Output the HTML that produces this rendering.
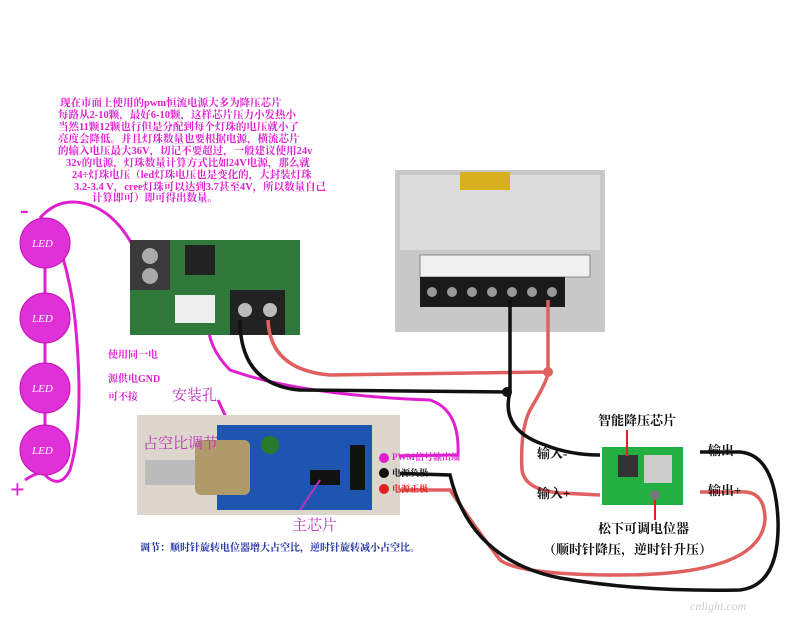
<!DOCTYPE html>
<html><head><meta charset="utf-8"><style>
body{margin:0;background:#fff;width:800px;height:617px;overflow:hidden}
svg{display:block}
text{font-family:"Liberation Serif","Noto Serif CJK SC",serif}
</style></head><body>
<svg width="800" height="617" viewBox="0 0 800 617" xmlns="http://www.w3.org/2000/svg">
<g fill="#e020d0" font-size="10.5" font-weight="bold">
<text x="60" y="106">现在市面上使用的pwm恒流电源大多为降压芯片</text>
<text x="58" y="118">每路从2-10颗，最好6-10颗，这样芯片压力小发热小</text>
<text x="58" y="130">当然11颗12颗也行但是分配到每个灯珠的电压就小了</text>
<text x="58" y="142">亮度会降低。并且灯珠数量也要根据电源，横流芯片</text>
<text x="58" y="154">的输入电压最大36V，切记不要超过，一般建议使用24v</text>
<text x="66" y="166">32v的电源，灯珠数量计算方式比如24V电源，那么就</text>
<text x="72" y="178">24÷灯珠电压（led灯珠电压也是变化的，大封装灯珠</text>
<text x="74" y="190">3.2-3.4 V，cree灯珠可以达到3.7甚至4V，所以数量自己</text>
<text x="92" y="201">计算即可）即可得出数量。</text>
</g>
<g fill="none" stroke="#e020d0" stroke-width="3">
<path d="M40 218 Q60 195 90 205 Q120 215 140 260"/>
<path d="M45 268 V293 M45 343 V363 M45 413 V425"/>
<path d="M45 475 Q60 490 70 470 Q85 420 75 320 Q70 270 50 220"/>
<path d="M25 480 Q40 470 45 475"/>
<path d="M210 300 Q200 340 230 370 Q300 395 430 400 Q460 410 458 455 L385 456"/>
<path d="M150 290 Q150 320 160 330 M150 330 L160 312 L170 325"/>
<path d="M218 400 L232 430"/>
</g>
<g fill="#e030d8" stroke="#c010b0">
<circle cx="45" cy="243" r="25"/><circle cx="45" cy="318" r="25"/>
<circle cx="45" cy="388" r="25"/><circle cx="45" cy="450" r="25"/>
</g>
<g fill="#fff" font-size="11" font-style="italic">
<text x="32" y="247">LED</text><text x="32" y="322">LED</text><text x="32" y="392">LED</text><text x="32" y="454">LED</text>
</g>
<text x="20" y="218" font-size="26" fill="#e020d0" font-weight="bold">-</text>
<text x="10" y="498" font-size="26" fill="#e020d0" font-weight="bold">+</text>
<g fill="#e020d0" font-size="10" font-weight="bold">
<text x="108" y="358">使用同一电</text><text x="108" y="382">源供电GND</text><text x="108" y="400">可不接</text>
</g>
<rect x="130" y="240" width="170" height="95" fill="#2f7a3a"/>
<rect x="130" y="240" width="40" height="50" fill="#3a3a3a"/>
<circle cx="150" cy="256" r="8" fill="#aaa"/><circle cx="150" cy="276" r="8" fill="#aaa"/>
<rect x="185" y="245" width="30" height="30" fill="#222"/>
<rect x="175" y="295" width="40" height="28" fill="#eee"/>
<rect x="230" y="290" width="55" height="45" fill="#222"/>
<circle cx="245" cy="310" r="7" fill="#bbb"/><circle cx="270" cy="310" r="7" fill="#bbb"/>
<rect x="395" y="170" width="210" height="162" fill="#c8c8c8"/>
<rect x="400" y="175" width="200" height="75" fill="#dcdcdc"/>
<rect x="460" y="172" width="50" height="18" fill="#d8b020"/>
<rect x="420" y="255" width="170" height="22" fill="#f0f0f0" stroke="#888"/>
<rect x="420" y="277" width="145" height="30" fill="#1a1a1a"/>
<g fill="#999"><circle cx="432" cy="292" r="5"/><circle cx="452" cy="292" r="5"/><circle cx="472" cy="292" r="5"/><circle cx="492" cy="292" r="5"/><circle cx="512" cy="292" r="5"/><circle cx="532" cy="292" r="5"/><circle cx="552" cy="292" r="5"/></g>
<g fill="none" stroke-width="3.5">
<path stroke="#e06060" d="M268 320 Q270 370 330 375 L548 372 M548 300 V372 Q548 380 530 410 Q520 430 522 470 Q525 490 560 493 L600 495"/>
<path stroke="#e06060" d="M385 490 L450 490 Q470 520 500 560 Q520 575 620 575 Q760 575 765 520 Q765 490 740 492 L700 492"/>
<path stroke="#111" d="M240 320 Q240 385 300 390 L510 392 M510 300 V392 Q500 430 545 445 Q570 455 600 455"/>
<path stroke="#111" d="M385 473 L450 475 Q470 560 560 578 Q640 592 740 590 Q780 585 778 520 Q775 455 740 452 L700 452"/>
</g>
<circle cx="548" cy="372" r="5" fill="#e06060"/><circle cx="507" cy="392" r="5" fill="#111"/>
<rect x="137" y="415" width="263" height="100" fill="#ddd6cc"/>
<rect x="217" y="425" width="155" height="85" fill="#1d55b0"/>
<rect x="145" y="460" width="50" height="25" fill="#bbb"/>
<rect x="195" y="440" width="55" height="55" rx="6" fill="#b09a6a"/>
<circle cx="270" cy="445" r="9" fill="#2a7a2a"/>
<rect x="310" y="470" width="30" height="15" fill="#111"/>
<rect x="350" y="445" width="15" height="45" fill="#111"/>
<circle cx="384" cy="458" r="5" fill="#e020d0"/><circle cx="384" cy="473" r="5" fill="#111"/><circle cx="384" cy="489" r="5" fill="#e02020"/>
<text x="172" y="400" font-size="15" fill="#c030c0">安装孔</text>
<text x="143" y="448" font-size="15" fill="#c030c0">占空比调节</text>
<text x="292" y="530" font-size="15" fill="#c030c0">主芯片</text>
<line x1="300" y1="510" x2="320" y2="480" stroke="#c030c0" stroke-width="2"/>
<g font-size="9" font-weight="bold"><text x="392" y="460" fill="#e020d0">PWM信号输出端</text><text x="392" y="476" fill="#111">电源负极</text><text x="392" y="492" fill="#e02020">电源正极</text></g>
<text x="140" y="551" font-size="10" font-weight="bold" fill="#2030a0">调节：顺时针旋转电位器增大占空比，逆时针旋转减小占空比。</text>
<rect x="602" y="447" width="81" height="58" fill="#22b040"/>
<rect x="618" y="455" width="20" height="22" fill="#333"/>
<rect x="644" y="455" width="28" height="28" fill="#ccc"/>
<circle cx="655" cy="495" r="5" fill="#777"/>
<g stroke="#e02020" stroke-width="2"><line x1="627" y1="430" x2="627" y2="456"/><line x1="655" y1="500" x2="655" y2="520"/></g>
<g font-size="13" fill="#111" font-weight="bold">
<text x="598" y="425">智能降压芯片</text>
<text x="537" y="458">输入-</text><text x="537" y="498">输入+</text>
<text x="708" y="455">输出-</text><text x="708" y="495">输出+</text>
<text x="598" y="533">松下可调电位器</text>
<text x="543" y="554">（顺时针降压，逆时针升压）</text>
</g>
<text x="690" y="610" font-size="12" fill="#ccc" font-style="italic">cnlight.com</text>
</svg>
</body></html>
